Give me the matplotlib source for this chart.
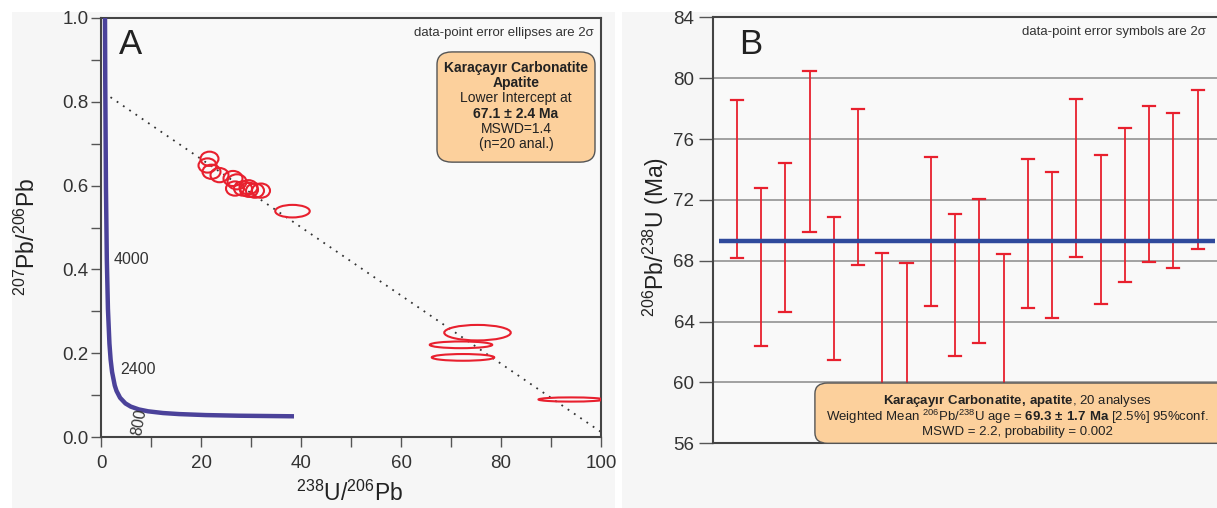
import matplotlib
matplotlib.use("Agg")
import matplotlib.pyplot as plt
from matplotlib.patches import Ellipse, FancyBboxPatch, Rectangle

plt.rcParams['font.family'] = ['Liberation Sans', 'DejaVu Sans']
plt.rcParams['mathtext.fontset'] = 'custom'
plt.rcParams['mathtext.rm'] = 'Liberation Sans'
plt.rcParams['mathtext.bf'] = 'Liberation Sans:bold'
plt.rcParams['mathtext.default'] = 'regular'

# ---------------- Panel A data (Tera-Wasserburg) ----------------
ell_x = [21.7, 21.3, 22.1, 23.7, 26.4, 27.2, 26.8, 28.4, 29.6, 30.8, 32.0, 29.5,
         38.3, 75.3, 72.0, 72.4, 94.0]
ell_y = [0.664, 0.648, 0.633, 0.625, 0.617, 0.609, 0.593, 0.593, 0.590, 0.588, 0.588, 0.596,
         0.539, 0.249, 0.220, 0.190, 0.0895]
ell_w = [3.6, 3.6, 3.6, 3.6, 3.8, 3.8, 3.6, 3.6, 3.6, 3.6, 3.6, 3.6,
         6.9, 13.3, 12.5, 12.5, 13.0]
ell_h = [0.034, 0.034, 0.034, 0.034, 0.036, 0.036, 0.034, 0.034, 0.034, 0.034, 0.034, 0.034,
         0.030, 0.037, 0.016, 0.016, 0.010]

conc_x = [0.784, 0.853, 0.990, 1.163, 1.387, 1.687, 1.922, 2.217, 2.749, 3.105, 3.817,
          4.888, 5.96, 7.57, 9.43, 12.40, 15.62, 20.99, 27.53, 38.6]
conc_y = [1.046, 0.845, 0.597, 0.425, 0.306, 0.223, 0.185, 0.155, 0.123, 0.110, 0.0936,
          0.0801, 0.0725, 0.0658, 0.0613, 0.0572, 0.0547, 0.0523, 0.0508, 0.0494]
conc_labels = ['4000', '2400', '800']
conc_label_x = [2.6, 3.8, 5.6]
conc_label_y = [0.424, 0.162, 0.036]
conc_label_rot = [0, 0, 80]

disc_x = [1.9, 100.0]
disc_y = [0.811, 0.012]

# ---------------- Panel B data (206Pb/238U ages) ----------------
bar_top = [78.57, 72.81, 74.41, 80.44, 70.90, 77.94, 68.49, 67.87, 74.82, 71.05,
           72.08, 68.42, 74.69, 73.84, 78.64, 74.98, 76.71, 78.20, 77.68, 79.19]
bar_bot = [68.16, 62.39, 64.63, 69.89, 61.45, 67.72, 58.3, 57.8, 65.02, 61.73,
           62.61, 58.3, 64.89, 64.21, 68.27, 65.15, 66.60, 67.94, 67.50, 68.79]
wmean = 69.3
b_yticks = [56, 60, 64, 68, 72, 76, 80, 84]

RED = '#e8202e'
PEACH = '#fcd09c'
W, H = 1217, 508
fig = plt.figure(figsize=(W / 100, H / 100), dpi=100)

# panel backgrounds
fig.patches.append(Rectangle((12 / W, 0), (615 - 12) / W, (H - 12) / H,
                             transform=fig.transFigure, facecolor='#f6f6f6',
                             edgecolor='none', zorder=-10))
fig.patches.append(Rectangle((622 / W, 0), (W - 622) / W, (H - 12) / H,
                             transform=fig.transFigure, facecolor='#f6f6f6',
                             edgecolor='none', zorder=-10))

# ================= Panel A =================
axA = fig.add_axes([101 / W, 1 - 437 / H, 500 / W, 419 / H])
axA.set_facecolor('#f9f9f9')
axA.set_xlim(0, 100)
axA.set_ylim(0, 1.0)
axA.set_xticks([0, 20, 40, 60, 80, 100])
axA.set_xticks([10, 30, 50, 70, 90], minor=True)
axA.set_yticks([0.0, 0.2, 0.4, 0.6, 0.8, 1.0])
axA.set_yticks([0.1, 0.3, 0.5, 0.7, 0.9], minor=True)
axA.set_yticklabels(['0.0', '0.2', '0.4', '0.6', '0.8', '1.0'])
axA.tick_params(which='both', direction='out', color='#555555', labelcolor='#333333',
                labelsize=13.5, width=1.0)
axA.tick_params(which='major', length=7)
axA.tick_params(which='minor', length=7)
axA.tick_params(axis='x', pad=6)
axA.tick_params(axis='y', pad=2)
for s in axA.spines.values():
    s.set_color('#444444')
    s.set_linewidth(1.5)

axA.plot(disc_x, disc_y, linestyle=(0, (1, 3.2)), color='#333333', lw=1.3, zorder=2)
axA.plot(conc_x, conc_y, color='#4b429a', lw=3.2, solid_capstyle='butt', zorder=3)
for lab, lx, ly, rot in zip(conc_labels, conc_label_x, conc_label_y, conc_label_rot):
    axA.text(lx, ly, lab, fontsize=11.5, color='#333333', rotation=rot,
             ha='left', va='center', zorder=4)
for x, y, w, h in zip(ell_x, ell_y, ell_w, ell_h):
    axA.add_patch(Ellipse((x, y), w, h, facecolor='none', edgecolor=RED, lw=1.5, zorder=5))

axA.text(0.035, 0.936, 'A', transform=axA.transAxes, fontsize=25, color='#222222',
         ha='left', va='center')
axA.text(0.985, 0.965, 'data-point error ellipses are 2σ', transform=axA.transAxes,
         fontsize=9.5, color='#333333', ha='right', va='center')

boxA = FancyBboxPatch((0.672, 0.656), 0.316, 0.263, transform=axA.transAxes,
                      boxstyle='round,pad=0.0,rounding_size=0.03',
                      facecolor=PEACH, edgecolor='#555555', lw=1.0, zorder=6)
axA.add_patch(boxA)
linesA = ['Karaçayır Carbonatite', 'Apatite', 'Lower Intercept at', '67.1 ± 2.4 Ma',
          'MSWD=1.4', '(n=20 anal.)']
boldA = [True, True, False, True, False, False]
for i, (t, b) in enumerate(zip(linesA, boldA)):
    ypx = 68 + i * 15.2
    axA.text(0.83, 1 - (ypx - 18) / 419, t, transform=axA.transAxes, fontsize=10,
             fontweight='bold' if b else 'normal', color='#222222',
             ha='center', va='center', zorder=7)

fig.text(350 / W, 1 - 493 / H, r'$^{238}$U/$^{206}$Pb', fontsize=16.5, color='#222222',
         ha='center', va='center')
fig.text(27 / W, 1 - 237 / H, r'$^{207}$Pb/$^{206}$Pb', fontsize=16.5, color='#222222',
         ha='center', va='center', rotation=90)

# ================= Panel B =================
axB = fig.add_axes([712.5 / W, 1 - 443.3 / H, (W - 712.5) / W, 426 / H])
axB.set_facecolor('#f9f9f9')
axB.set_xlim(0, 20.8)
axB.set_ylim(56, 84)
axB.set_yticks(b_yticks)
axB.set_xticks([])
axB.tick_params(axis='y', direction='out', length=10, color='#555555',
                labelcolor='#333333', labelsize=13.5, width=1.0, pad=3)
for yv in b_yticks[1:-1]:
    axB.axhline(yv, color='#8a8a8a', lw=1.1, zorder=1)
for k in ['left', 'top', 'bottom']:
    axB.spines[k].set_color('#444444')
    axB.spines[k].set_linewidth(1.5)
axB.spines['right'].set_visible(False)

xs = list(range(1, len(bar_top) + 1))
for x, t, b in zip(xs, bar_top, bar_bot):
    axB.plot([x, x], [b, t], color=RED, lw=1.3, zorder=3)
    axB.plot([x - 0.25, x + 0.25], [t, t], color=RED, lw=1.6, zorder=3)
    axB.plot([x - 0.25, x + 0.25], [b, b], color=RED, lw=1.6, zorder=3)
axB.plot([0.27, 20.7], [wmean, wmean], color='#2f4a9c', lw=3.2, zorder=4,
         solid_capstyle='butt')

axB.text(0.052, 0.935, 'B', transform=axB.transAxes, fontsize=25, color='#222222',
         ha='left', va='center')
axB.text(0.978, 0.966, 'data-point error symbols are 2σ', transform=axB.transAxes,
         fontsize=9.5, color='#333333', ha='right', va='center')

boxB = FancyBboxPatch((0.203, 0.0), 0.83, 0.1415, transform=axB.transAxes,
                      boxstyle='round,pad=0.0,rounding_size=0.025',
                      facecolor=PEACH, edgecolor='#555555', lw=1.0, zorder=6,
                      clip_on=False)
axB.add_patch(boxB)
linesB = [r'$\mathbf{Karaçayır\ Carbonatite{,}\ apatite}$, 20 analyses',
          r'Weighted Mean $^{206}$Pb/$^{238}$U age = $\mathbf{69.3\ {\pm}\ 1.7\ Ma}$ [2.5%] 95%conf.',
          'MSWD = 2.2, probability = 0.002']
for i, t in enumerate(linesB):
    ypx = 401 + i * 15.6
    axB.text((1017 - 712.5) / 504.5, 1 - (ypx - 17.3) / 426, t, transform=axB.transAxes,
             fontsize=9.5, color='#222222', ha='center', va='center', zorder=7)

fig.text(656 / W, 1 - 237 / H, r'$^{206}$Pb/$^{238}$U (Ma)', fontsize=16.5, color='#222222',
         ha='center', va='center', rotation=90)

fig.savefig('out.png', dpi=100, facecolor='white')
